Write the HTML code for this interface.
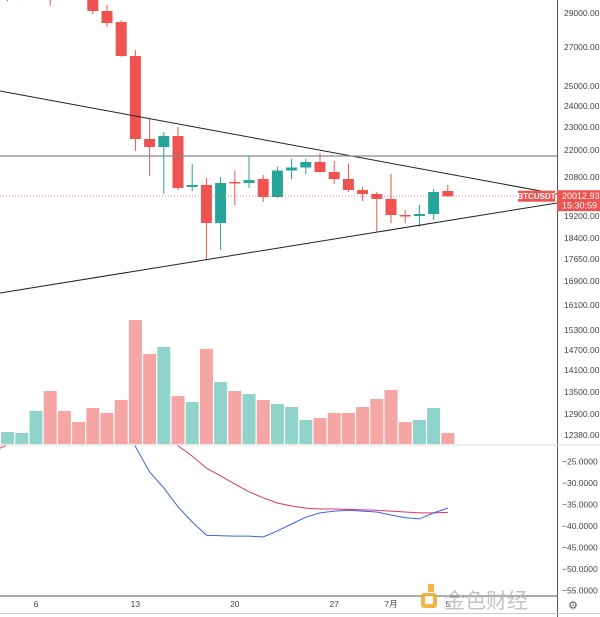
<!DOCTYPE html>
<html><head><meta charset="utf-8"><style>
html,body{margin:0;padding:0;background:#fff;}
svg{display:block;font-family:"Liberation Sans","Noto Sans CJK SC",sans-serif;}
</style></head><body>
<svg id="chart" width="600" height="617" viewBox="0 0 600 617">
<defs>
<clipPath id="pricePane"><rect x="0" y="0" width="557" height="445"/></clipPath>
<clipPath id="macdPane"><rect x="0" y="445.5" width="557" height="150"/></clipPath>
</defs>
<g id="grid"></g>
<g id="volume" clip-path="url(#pricePane)"></g>
<g id="candles" clip-path="url(#pricePane)"></g>
<g id="drawings"></g>
<g id="macd" clip-path="url(#macdPane)"></g>
<g id="axes"></g>
</svg>
<script>
// ---- data ----
const dayLabels = ["6","13","20","27","7月","5"];
const dayLabelIdx = [0,7,14,21,25,29];
const firstDay = -3;
const opens  = [31000,29800,29950,30200,30600,30200,30500,29765,29118,28470,26538,22478,22130,22608,20390,20472,18945,20595,20554,20718,19980,21089,21222,21467,21022,20718,20267,20103,19898,19241,19200,19282,20226];
const highs  = [31200,30200,30300,30800,30800,30400,30700,29940,29470,28590,26846,23429,22782,23000,21377,20759,20800,21089,21734,20889,21267,21600,21600,21867,21511,21400,20390,20185,20933,19446,19651,20308,20472];
const lows   = [30300,29700,29750,30000,29420,29900,29850,28940,28177,26500,21956,20846,20103,20267,20226,17650,17971,19652,20349,19775,19939,20718,20933,20978,20513,20185,19816,18618,18945,18945,18800,19054,19980];
const closes = [30500,29900,30100,30600,30000,30100,30000,29118,28412,26538,22478,22130,22608,20349,20472,18945,20554,20554,20677,19980,21089,21222,21467,21022,20718,20267,20103,19898,19241,19200,19282,20185,20013];
const volumes = [26,12,11,33,53,33,22,36,31,44,124,90,97,48,42,95,62,53,50,44,40,37,24,26,31,31,37,45,54,22,24,36,11];
const macdLine = [null,null,null,null,null,null,null,null,null,-12,-21.5,-27.4,-31.1,-35.5,-39.0,-42.1,-42.2,-42.3,-42.3,-42.5,-41.1,-39.5,-37.9,-36.9,-36.5,-36.3,-36.5,-36.7,-37.4,-38.0,-38.3,-36.9,-35.8];
const signalLine = [-22.6,-21.0,-19,-17,-16,-15,-15,-15,-15,-14,-15,-16,-18,-21.3,-23.7,-26.5,-28.3,-30.2,-32.0,-33.4,-34.6,-35.3,-35.8,-36.0,-36.0,-36.1,-36.2,-36.3,-36.5,-36.7,-36.9,-36.9,-36.8];
const priceTicks = [29000,27000,25000,24000,23000,22000,20800,19200,18400,17650,16900,16100,15300,14700,14100,13500,12900,12380];
const macdTicks = [-25,-30,-35,-40,-45,-50,-55];
const lastPrice = 20012.93;
const hLinePrice = 21733;

// ---- axis functions ----
const tickY = [13,47,86,106,127,150,177,216,238,259,281,305,330,350,370,392,414,435];
function priceY(p){
  if(p>=priceTicks[0]) return tickY[0]-(p-priceTicks[0])/58.8;
  for(let i=0;i<priceTicks.length-1;i++){
    const a=priceTicks[i],b=priceTicks[i+1];
    if(p<=a&&p>=b) return tickY[i]+(a-p)/(a-b)*(tickY[i+1]-tickY[i]);
  }
  return tickY[tickY.length-1];
}
function dayX(d){ return 36+d*14.2; }
function volY(v){ return 444-v; }
function macdY(v){ return 461.7+(-25-v)*4.3; }

const NS="http://www.w3.org/2000/svg";
function mk(tag,attrs,parent){const e=document.createElementNS(NS,tag);for(const k in attrs)e.setAttribute(k,attrs[k]);parent.appendChild(e);return e;}
const UP="#26a69a",DN="#ef5350",UPV="#90d3ca",DNV="#f5a5a3";

// volume
const gv=document.getElementById('volume');
volumes.forEach((v,i)=>{
  const d=firstDay+i,x=dayX(d),up=closes[i]>=opens[i];
  const r=mk('rect',{x:x-6.5,y:volY(v),width:13,height:444-volY(v),fill:up?UPV:DNV},gv);
  
  
});
// candles
const gc=document.getElementById('candles');
opens.forEach((o,i)=>{
  const d=firstDay+i,x=dayX(d),c=closes[i],up=c>=o,col=up?UP:DN;
  const g=mk('g',{},gc);
  
  
  mk('line',{x1:x,x2:x,y1:priceY(highs[i]),y2:priceY(lows[i]),stroke:col,'stroke-width':1},g);
  const yt=Math.min(priceY(o),priceY(c)),yb=Math.max(priceY(o),priceY(c));
  mk('rect',{x:x-5.5,y:yt,width:11,height:Math.max(1.5,yb-yt),fill:col},g);
});
// drawings
const gd=document.getElementById('drawings');
let e;
e=mk('line',{x1:0,y1:91,x2:557,y2:194,stroke:'#222','stroke-width':1},gd);


e=mk('line',{x1:0,y1:293,x2:557,y2:203,stroke:'#222','stroke-width':1},gd);


e=mk('line',{x1:0,y1:priceY(hLinePrice),x2:557,y2:priceY(hLinePrice),stroke:'#888','stroke-width':1.3},gd);


e=mk('line',{x1:0,y1:priceY(lastPrice),x2:557,y2:priceY(lastPrice),stroke:'#ef5350','stroke-width':1,'stroke-dasharray':'1 2','opacity':0.7},gd);


e=mk('rect',{x:518,y:priceY(lastPrice)-5.5,width:37,height:11,fill:'#ef5350'},gd);


e=mk('text',{x:536.5,y:priceY(lastPrice)+3,'font-size':8,'font-weight':'bold',fill:'#fff','text-anchor':'middle'},gd);
e.textContent='BTCUSDT';


// macd
const gm=document.getElementById('macd');
function path(arr){let s='';arr.forEach((v,i)=>{if(v===null)return;s+=(s?'L':'M')+dayX(firstDay+i).toFixed(1)+','+macdY(v).toFixed(1);});return s;}
e=mk('path',{d:path(signalLine),fill:'none',stroke:'#e0336f','stroke-width':1},gm);


e=mk('path',{d:path(macdLine),fill:'none',stroke:'#3b63e0','stroke-width':1},gm);


// axes
const ga=document.getElementById('axes');
e=mk('line',{x1:557.5,y1:0,x2:557.5,y2:617,stroke:'#555','stroke-width':1},ga);


e=mk('line',{x1:0,y1:445,x2:600,y2:445,stroke:'#ddd','stroke-width':1},ga);


e=mk('line',{x1:0,y1:596,x2:557,y2:596,stroke:'#555','stroke-width':1},ga);


e=mk('line',{x1:0,y1:613.5,x2:600,y2:613.5,stroke:'#ccc','stroke-width':1},ga);


priceTicks.forEach(p=>{
  const t=mk('text',{x:564,y:priceY(p)+3,'font-size':8.5,fill:'#444'},ga);
  t.textContent=p.toFixed(2);
  
  
});
macdTicks.forEach(v=>{
  const t=mk('text',{x:562,y:macdY(v)+3,'font-size':8.5,fill:'#444'},ga);
  t.textContent='\u2212'+Math.abs(v).toFixed(4);
  
  
});
dayLabels.forEach((l,i)=>{
  const t=mk('text',{x:dayX(dayLabelIdx[i]),y:607,'font-size':8.5,fill:'#444','text-anchor':'middle'},ga);
  t.textContent=l;
  
  
});
// price tag
const py=priceY(lastPrice);
e=mk('rect',{x:557,y:py-6,width:43,height:21,fill:'#ef5350'},ga);


e=mk('text',{x:562,y:py+3,'font-size':9,fill:'#fff'},ga);
e.textContent=lastPrice.toFixed(2);


e=mk('text',{x:562,y:py+12.5,'font-size':9,fill:'#fff'},ga);
e.textContent='15:30:59';


// watermark
e=mk('g',{opacity:0.85},ga);


mk('rect',{x:421,y:593,width:16,height:15,rx:3,fill:'#f5a623'},e);
mk('rect',{x:425,y:596,width:8,height:8,fill:'#fff'},e);
mk('rect',{x:428,y:584,width:6,height:8,rx:1,fill:'#f5a623'},e);
const wt=mk('text',{x:444,y:608,'font-size':21,fill:'#b9b9b9'},e);
wt.textContent='金色财经';
// gear
e=mk('text',{x:573,y:609,'font-size':11,fill:'#555','text-anchor':'middle'},ga);
e.textContent='⚙';


</script>
</body></html>
